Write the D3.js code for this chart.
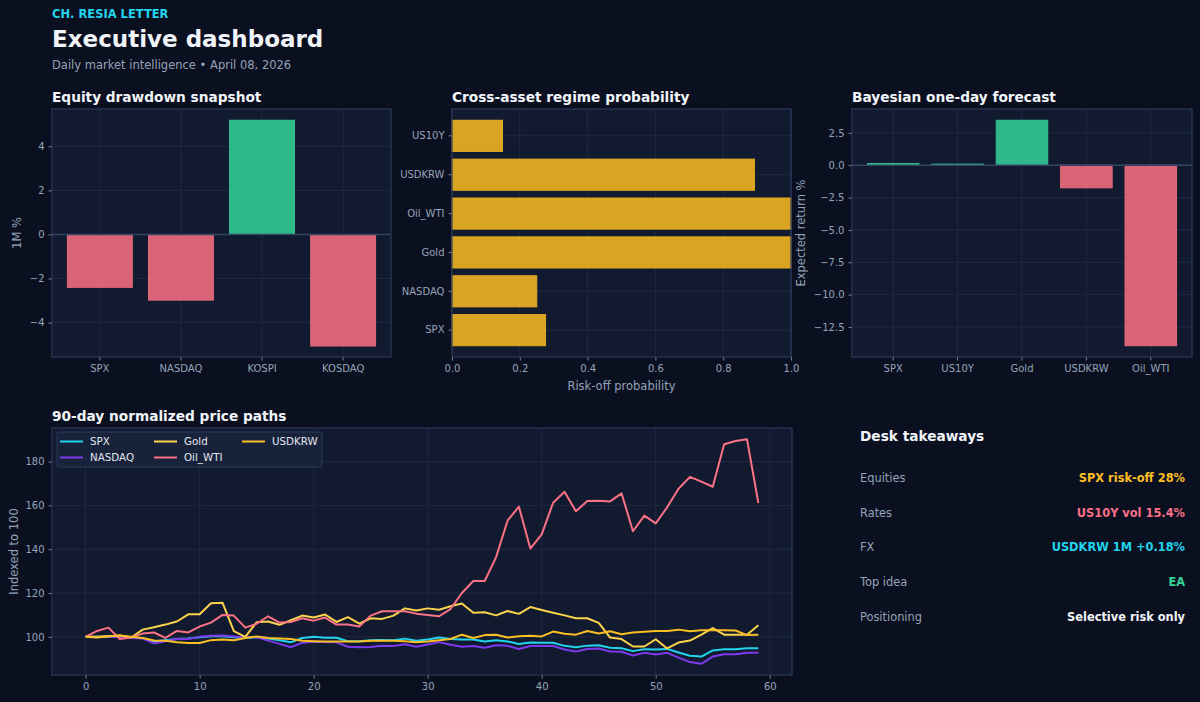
<!DOCTYPE html>
<html>
<head>
<meta charset="utf-8">
<script src="https://cdn.jsdelivr.net/npm/d3@7"></script>
<style>
  body { margin: 0; background: #0b1020; }
  svg text { font-family: "DejaVu Sans", sans-serif; }
</style>
</head>
<body>
<div id="dashboard"></div>
<script>
// ---- data ----
let equityNames = ["SPX", "NASDAQ", "KOSPI", "KOSDAQ"];
let equityMoves = [-2.4, -2.98, 5.18, -5.06];

let regimeNames = ["SPX", "NASDAQ", "Gold", "Oil_WTI", "USDKRW", "US10Y"];
let regimeProbs = [0.276, 0.25, 1.0, 1.0, 0.892, 0.149];

let forecastNames = ["SPX", "US10Y", "Gold", "USDKRW", "Oil_WTI"];
let forecastReturns = [0.13, 0.08, 3.47, -1.75, -13.95];

let pathNames = ["SPX", "NASDAQ", "Gold", "Oil_WTI", "USDKRW"];
let spxPath = [100, 100, 100.2, 100, 99.7, 99.4, 98, 98.5, 99, 99.2,
  99.8, 100.3, 100.3, 99.8, 99.5, 99.8, 99.3, 98.5, 97.5, 99.5,
  100, 99.6, 99.6, 98, 98, 98.5, 98.6, 98.5, 99.2, 98.2,
  98.8, 99.7, 99, 98.8, 98.8, 97.9, 98.5, 97.9, 96.7, 97.4,
  97.3, 97.3, 95.9, 95.3, 96, 96.2, 95, 94.8, 93.5, 94.4,
  94.2, 94.5, 92.9, 91.4, 91, 93.8, 94.4, 94.4, 94.8, 94.8];
let nasdaqPath = [100, 100, 100.2, 99.8, 99.5, 99.2, 97, 98, 99, 99,
  100, 100.5, 100.6, 100.2, 99.8, 99.8, 98.3, 96.8, 95.3, 97.3,
  97.8, 97.6, 97.5, 95.5, 95.3, 95.4, 96, 95.8, 96.6, 95.5,
  96.5, 97.6, 96.4, 95.5, 95.8, 95, 96.2, 95.9, 94.5, 95.8,
  95.8, 95.8, 94.2, 93.3, 94.5, 94.7, 93.3, 93.2, 91.5, 92.7,
  92, 92.7, 90.5, 88.5, 87.7, 91, 92.1, 92.1, 92.7, 92.7];
let goldPath = [100, 99.7, 100.3, 100.6, 99.7, 103.3, 104.4, 105.6, 107, 110.3,
  110.3, 115.3, 115.6, 102.6, 100, 106.7, 107, 105.5, 107.6, 109.7,
  108.8, 110.2, 106.8, 109, 106, 108.5, 108.2, 109.7, 113, 112,
  113, 112.4, 114, 115.2, 111, 111.2, 109.8, 111.8, 110.5, 113.6,
  112.3, 111, 109.8, 108.5, 108.5, 106.4, 99.7, 99, 95.6, 95.6,
  98.9, 94.7, 97.4, 98.3, 101, 104, 101, 101, 101, 105.3];
let oilPath = [100, 102.7, 104.2, 99, 99.7, 101.5, 102, 99.5, 102.7, 102,
  104.7, 106.5, 110, 109.7, 104.2, 106, 109.4, 106.5, 106.8, 108.5,
  107.4, 108.8, 105.6, 105.6, 104.7, 109.7, 111.7, 111.7, 111.7, 110.6,
  110, 109.4, 112.7, 120, 125.5, 125.5, 136.4, 153, 159.4, 140.3,
  146.8, 161.2, 166.2, 157.3, 162, 162.1, 161.8, 165.5, 148.2, 155.3,
  151.8, 159.1, 167.6, 173, 170.8, 168.5, 187.9, 189.4, 190.2, 161.1];
let usdkrwPath = [100, 100, 100.3, 100.6, 100, 99.5, 98.3, 98.2, 97.5, 97.2,
  97.2, 98.5, 98.8, 98.5, 99.5, 100.2, 99.5, 99.2, 99, 98.2,
  98, 97.9, 97.9, 97.9, 97.9, 98.2, 98.2, 98.2, 98, 97.5,
  97.9, 98.5, 99, 101, 99.5, 100.8, 101, 99.7, 100.3, 100.5,
  100.2, 102.4, 101.4, 101, 102.7, 101.5, 102.6, 101.2, 102, 102.3,
  102.7, 102.7, 103.3, 102.6, 103, 103, 103, 102.9, 100.8, 101];

let yTicksEquity = [-4, -2, 0, 2, 4];
let xTicksRegime = [0, 0.2, 0.4, 0.6, 0.8, 1.0];
let yTicksForecast = [-12.5, -10, -7.5, -5, -2.5, 0, 2.5];
let xTicksPaths = [0, 10, 20, 30, 40, 50, 60];
let yTicksPaths = [100, 120, 140, 160, 180];

let takeawayLabels = ["Equities", "Rates", "FX", "Top idea", "Positioning"];
let takeawayValues = ["SPX risk-off 28%", "US10Y vol 15.4%", "USDKRW 1M +0.18%", "EA", "Selective risk only"];

// ---- colours ----
let pageBg = "#0b1020";
let panelBg = "#111a2e";
let spine = "#2a3a5c";
let grid = "#1f2a42";
let tickText = "#94a3b8";
let up = "#31c28f";
let down = "#e5687b";
let amber = "#d8a422";
let lineColors = { SPX: "#22d3ee", NASDAQ: "#7c3aed", Gold: "#fcd34d", Oil_WTI: "#fb7185", USDKRW: "#fbbf24" };
let takeawayColors = ["#fbbf24", "#fb7185", "#22d3ee", "#34d399", "#f1f5f9"];

let svgWidth = 1200;
let svgHeight = 702;

let svg = d3.select("#dashboard")
  .append("svg")
  .attr("width", svgWidth)
  .attr("height", svgHeight)
  .style("display", "block");

svg.append("rect").attr("width", svgWidth).attr("height", svgHeight).attr("fill", pageBg);

// header
svg.append("text").attr("x", 52).attr("y", 17.5).text("CH. RESIA LETTER")
  .attr("fill", "#22d3ee").attr("font-size", 11.5).attr("font-weight", "bold");
svg.append("text").attr("x", 52).attr("y", 47).text("Executive dashboard")
  .attr("fill", "#f1f5f9").attr("font-size", 23).attr("font-weight", "bold");
svg.append("text").attr("x", 52).attr("y", 69).text("Daily market intelligence \u2022 April 08, 2026")
  .attr("fill", tickText).attr("font-size", 11.5);

// common frame for a panel: background, title, returns the group
function makePanel(x, y, w, h, title) {
  let g = svg.append("g").attr("transform", `translate(${x}, ${y})`);
  g.append("rect").attr("width", w).attr("height", h).attr("fill", panelBg);
  g.append("text").attr("x", 0).attr("y", -7).text(title)
    .attr("fill", "#f1f5f9").attr("font-size", 13.7).attr("font-weight", "bold");
  return g;
}

function styleAxis(sel) {
  sel.select(".domain").remove();
  sel.selectAll(".tick line").attr("stroke", tickText).attr("stroke-width", 0.8);
  sel.selectAll(".tick text").attr("fill", tickText).attr("font-size", 10)
    .attr("font-family", "DejaVu Sans, sans-serif");
}

function drawSpines(g, w, h) {
  g.append("rect").attr("width", w).attr("height", h)
    .attr("fill", "none").attr("stroke", spine).attr("stroke-width", 1.2);
}

function yLabel(g, x, h, label) {
  g.append("text")
    .attr("transform", `translate(${x}, ${h / 2}) rotate(-90)`)
    .attr("text-anchor", "middle")
    .attr("fill", tickText).attr("font-size", 11.5)
    .text(label);
}

// ---- panel 1: equity drawdown ----
let p1w = 339, p1h = 248;
let p1 = makePanel(52, 109, p1w, p1h, "Equity drawdown snapshot");

let x1 = d3.scaleBand().domain(equityNames).range([0, p1w]).paddingInner(0.2).paddingOuter(0.19);
let y1 = d3.scaleLinear().domain([-5.56, 5.69]).range([p1h, 0]);

equityNames.forEach(d => p1.append("line").attr("x1", x1(d) + x1.bandwidth() / 2).attr("x2", x1(d) + x1.bandwidth() / 2)
  .attr("y1", 0).attr("y2", p1h).attr("stroke", grid));
yTicksEquity.forEach(t => p1.append("line").attr("x1", 0).attr("x2", p1w).attr("y1", y1(t)).attr("y2", y1(t)).attr("stroke", grid));

p1.selectAll(".bar")
  .data(equityNames)
  .enter()
  .append("rect")
  .attr("x", d => x1(d))
  .attr("width", x1.bandwidth())
  .attr("y", (d, i) => y1(Math.max(0, equityMoves[i])))
  .attr("height", (d, i) => Math.abs(y1(equityMoves[i]) - y1(0)))
  .attr("fill", (d, i) => equityMoves[i] >= 0 ? up : down)
  .attr("fill-opacity", 0.95)
  .attr("stroke", (d, i) => equityMoves[i] >= 0 ? up : down)
  .attr("stroke-width", 1);

p1.append("line").attr("x1", 0).attr("x2", p1w).attr("y1", y1(0)).attr("y2", y1(0))
  .attr("stroke", "#334466").attr("stroke-width", 1.5);

p1.append("g").attr("transform", `translate(0, ${p1h})`)
  .call(d3.axisBottom(x1).tickSize(3.5).tickPadding(4)).call(styleAxis);
p1.append("g")
  .call(d3.axisLeft(y1).tickValues(yTicksEquity).tickSize(3.5).tickPadding(4).tickFormat(d => d3.format("")(d).replace("-", "\u2212")))
  .call(styleAxis);
drawSpines(p1, p1w, p1h);
yLabel(p1, -31, p1h, "1M %");

// ---- panel 2: regime probability ----
let p2w = 339, p2h = 248;
let p2 = makePanel(452, 109, p2w, p2h, "Cross-asset regime probability");

let x2 = d3.scaleLinear().domain([0, 1]).range([0, p2w]);
let y2 = d3.scaleBand().domain(regimeNames).range([p2h, 0]).paddingInner(0.2).paddingOuter(0.29);

xTicksRegime.forEach(t => p2.append("line").attr("x1", x2(t)).attr("x2", x2(t)).attr("y1", 0).attr("y2", p2h).attr("stroke", grid));
regimeNames.forEach(d => p2.append("line").attr("x1", 0).attr("x2", p2w)
  .attr("y1", y2(d) + y2.bandwidth() / 2).attr("y2", y2(d) + y2.bandwidth() / 2).attr("stroke", grid));

p2.selectAll(".bar")
  .data(regimeNames)
  .enter()
  .append("rect")
  .attr("x", 0)
  .attr("y", d => y2(d))
  .attr("height", y2.bandwidth())
  .attr("width", (d, i) => x2(regimeProbs[i]))
  .attr("fill", amber)
  .attr("stroke", "#e5ad24")
  .attr("stroke-width", 1);

p2.append("g").attr("transform", `translate(0, ${p2h})`)
  .call(d3.axisBottom(x2).tickValues(xTicksRegime).tickSize(3.5).tickPadding(4).tickFormat(d3.format(".1f")))
  .call(styleAxis);
p2.append("g").call(d3.axisLeft(y2).tickSize(3.5).tickPadding(4)).call(styleAxis);
drawSpines(p2, p2w, p2h);
p2.append("text").attr("x", p2w / 2).attr("y", p2h + 33).attr("text-anchor", "middle")
  .attr("fill", tickText).attr("font-size", 11.5).text("Risk-off probability");

// ---- panel 3: bayesian forecast ----
let p3w = 340, p3h = 248;
let p3 = makePanel(852, 109, p3w, p3h, "Bayesian one-day forecast");

let x3 = d3.scaleBand().domain(forecastNames).range([0, p3w]).paddingInner(0.2).paddingOuter(0.24);
let y3 = d3.scaleLinear().domain([-14.82, 4.34]).range([p3h, 0]);

forecastNames.forEach(d => p3.append("line").attr("x1", x3(d) + x3.bandwidth() / 2).attr("x2", x3(d) + x3.bandwidth() / 2)
  .attr("y1", 0).attr("y2", p3h).attr("stroke", grid));
yTicksForecast.forEach(t => p3.append("line").attr("x1", 0).attr("x2", p3w).attr("y1", y3(t)).attr("y2", y3(t)).attr("stroke", grid));

p3.selectAll(".bar")
  .data(forecastNames)
  .enter()
  .append("rect")
  .attr("x", d => x3(d))
  .attr("width", x3.bandwidth())
  .attr("y", (d, i) => y3(Math.max(0, forecastReturns[i])))
  .attr("height", (d, i) => Math.abs(y3(forecastReturns[i]) - y3(0)))
  .attr("fill", (d, i) => forecastReturns[i] >= 0 ? up : down)
  .attr("fill-opacity", 0.95)
  .attr("stroke", (d, i) => forecastReturns[i] >= 0 ? up : down)
  .attr("stroke-width", 1);

p3.append("line").attr("x1", 0).attr("x2", p3w).attr("y1", y3(0)).attr("y2", y3(0))
  .attr("stroke", "#334466").attr("stroke-width", 1.5);

p3.append("g").attr("transform", `translate(0, ${p3h})`)
  .call(d3.axisBottom(x3).tickSize(3.5).tickPadding(4)).call(styleAxis);
p3.append("g")
  .call(d3.axisLeft(y3).tickValues(yTicksForecast).tickSize(3.5).tickPadding(4).tickFormat(d => d3.format(".1f")(d).replace("-", "\u2212")))
  .call(styleAxis);
drawSpines(p3, p3w, p3h);
yLabel(p3, -47, p3h, "Expected return %");

// ---- panel 4: price paths ----
let p4w = 740, p4h = 247;
let p4 = makePanel(52, 428, p4w, p4h, "90-day normalized price paths");

let x4 = d3.scaleLinear().domain([-2.95, 61.95]).range([0, p4w]);
let y4 = d3.scaleLinear().domain([82.6, 195.3]).range([p4h, 0]);

xTicksPaths.forEach(t => p4.append("line").attr("x1", x4(t)).attr("x2", x4(t)).attr("y1", 0).attr("y2", p4h).attr("stroke", grid));
yTicksPaths.forEach(t => p4.append("line").attr("x1", 0).attr("x2", p4w).attr("y1", y4(t)).attr("y2", y4(t)).attr("stroke", grid));

let paths = [spxPath, nasdaqPath, goldPath, oilPath, usdkrwPath];
let line = d3.line().x((d, i) => x4(i)).y(d => y4(d));

paths.forEach((p, k) => {
  p4.append("path")
    .datum(p)
    .attr("d", line)
    .attr("fill", "none")
    .attr("stroke", lineColors[pathNames[k]])
    .attr("stroke-width", 2)
    .attr("stroke-linejoin", "round");
});

p4.append("g").attr("transform", `translate(0, ${p4h})`)
  .call(d3.axisBottom(x4).tickValues(xTicksPaths).tickSize(3.5).tickPadding(4)).call(styleAxis);
p4.append("g")
  .call(d3.axisLeft(y4).tickValues(yTicksPaths).tickSize(3.5).tickPadding(4)).call(styleAxis);
drawSpines(p4, p4w, p4h);
yLabel(p4, -34, p4h, "Indexed to 100");

// legend, 3 columns x 2 rows
let legend = p4.append("g").attr("transform", "translate(5, 4)");
legend.append("rect").attr("width", 265).attr("height", 35).attr("rx", 2)
  .attr("fill", "#18223a").attr("stroke", "#2b3a5a");
pathNames.forEach((name, k) => {
  let col = Math.floor(k / 2), row = k % 2;
  let lx = 3 + [0, 94, 182][col];
  let ly = 9.5 + row * 16;
  legend.append("line").attr("x1", lx).attr("x2", lx + 23).attr("y1", ly).attr("y2", ly)
    .attr("stroke", lineColors[name]).attr("stroke-width", 2);
  legend.append("text").attr("x", lx + 30).attr("y", ly + 3.7).text(name)
    .attr("fill", "#e2e8f0").attr("font-size", 10.3);
});

// ---- desk takeaways ----
let desk = svg.append("g").attr("transform", "translate(860, 441)");
desk.append("text").attr("x", 0).attr("y", 0).text("Desk takeaways")
  .attr("fill", "#f1f5f9").attr("font-size", 13.7).attr("font-weight", "bold");
takeawayLabels.forEach((lab, i) => {
  let ty = 41 + i * 34.7;
  desk.append("text").attr("x", 0).attr("y", ty).text(lab)
    .attr("fill", tickText).attr("font-size", 11.4);
  desk.append("text").attr("x", 325).attr("y", ty).attr("text-anchor", "end").text(takeawayValues[i])
    .attr("fill", takeawayColors[i]).attr("font-size", 11.4).attr("font-weight", "bold");
});
</script>
</body>
</html>
